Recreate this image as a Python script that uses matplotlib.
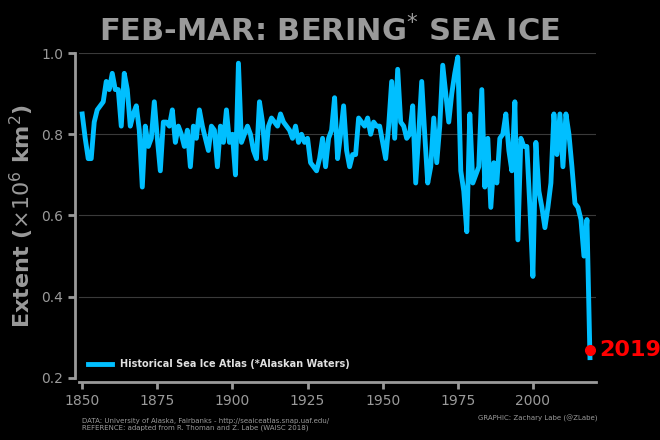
import numpy as np
import matplotlib
matplotlib.use("Agg")
import matplotlib.pyplot as plt

years = list(range(1850, 2020))
ext_1850s = [0.85, 0.79, 0.74, 0.74, 0.83, 0.86, 0.87, 0.88, 0.93, 0.91]
ext_1860s = [0.95, 0.91, 0.91, 0.82, 0.95, 0.91, 0.82, 0.85, 0.87, 0.81]
ext_1870s = [0.67, 0.82, 0.77, 0.79, 0.88, 0.79, 0.71, 0.83, 0.83, 0.82]
ext_1880s = [0.86, 0.78, 0.82, 0.80, 0.77, 0.81, 0.72, 0.82, 0.79, 0.86]
ext_1890s = [0.82, 0.79, 0.76, 0.82, 0.81, 0.72, 0.82, 0.78, 0.86, 0.78]
ext_1900s = [0.80, 0.70, 0.975, 0.78, 0.80, 0.82, 0.80, 0.76, 0.74, 0.88]
ext_1910s = [0.83, 0.74, 0.82, 0.84, 0.83, 0.82, 0.85, 0.83, 0.82, 0.81]
ext_1920s = [0.79, 0.82, 0.78, 0.80, 0.78, 0.79, 0.73, 0.72, 0.71, 0.74]
ext_1930s = [0.79, 0.72, 0.79, 0.81, 0.89, 0.74, 0.80, 0.87, 0.76, 0.72]
ext_1940s = [0.75, 0.75, 0.84, 0.83, 0.82, 0.84, 0.80, 0.83, 0.82, 0.82]
ext_1950s = [0.78, 0.74, 0.82, 0.93, 0.79, 0.96, 0.83, 0.82, 0.79, 0.80]
ext_1960s = [0.87, 0.68, 0.80, 0.93, 0.80, 0.68, 0.72, 0.84, 0.73, 0.82]
ext_1970s = [0.97, 0.90, 0.83, 0.90, 0.95, 0.99, 0.71, 0.66, 0.56, 0.85]
ext_1980s = [0.68, 0.70, 0.72, 0.91, 0.67, 0.79, 0.62, 0.73, 0.68, 0.79]
ext_1990s = [0.80, 0.85, 0.76, 0.71, 0.88, 0.54, 0.79, 0.77, 0.77, 0.62]
ext_2000s = [0.45, 0.78, 0.66, 0.62, 0.57, 0.62, 0.68, 0.85, 0.75, 0.85]
ext_2010s = [0.72, 0.85, 0.80, 0.72, 0.63, 0.62, 0.59, 0.50, 0.59, 0.25]
extent = (ext_1850s + ext_1860s + ext_1870s + ext_1880s + ext_1890s + ext_1900s
          + ext_1910s + ext_1920s + ext_1930s + ext_1940s + ext_1950s + ext_1960s
          + ext_1970s + ext_1980s + ext_1990s + ext_2000s + ext_2010s)
xticks = [1850, 1875, 1900, 1925, 1950, 1975, 2000]
yticks = [0.2, 0.4, 0.6, 0.8, 1.0]

gray = "#9a9a9a"
blue = "#00bfff"
fig = plt.figure(figsize=(6.6, 4.4), dpi=100, facecolor="black")
ax = fig.add_axes([0.12, 0.141, 0.783, 0.7385], facecolor="black")
ax.plot(years, extent, color=blue, lw=3.5, solid_joinstyle="round",
        label="Historical Sea Ice Atlas (*Alaskan Waters)", zorder=3)
ax.plot([years[-1]], [0.27], "o", color="red", ms=7, zorder=4)
ax.text(years[-1] + 3, 0.27, "2019", color="red", fontsize=16, fontweight="bold",
        va="center", ha="left", clip_on=False)
ax.set_xlim(1849, 2021)
ax.set_ylim(0.2, 1.0)
ax.set_xticks(xticks)
ax.set_yticks(yticks)
ax.set_yticklabels([f"{v:.1f}" for v in yticks])
for y in yticks[1:]:
    ax.axhline(y, color="#3a3a3a", lw=0.8, zorder=1)
for s in ["top", "right"]:
    ax.spines[s].set_visible(False)
for s in ["left", "bottom"]:
    ax.spines[s].set_color(gray)
    ax.spines[s].set_linewidth(2)
    ax.spines[s].set_position(("outward", 3))
ax.tick_params(colors=gray, labelsize=10, width=2, length=5)
ax.set_ylabel(r"Extent ($\times 10^6$ km$^2$)", color=gray, fontsize=16, fontweight="bold")
leg = ax.legend(loc="lower left", frameon=False, fontsize=7, handlelength=2.5)
for t in leg.get_texts():
    t.set_color("#e0e0e0")
    t.set_fontweight("bold")
fig.text(0.5, 0.93, r"FEB-MAR: BERING$^{*}$ SEA ICE", color=gray, fontsize=22,
         fontweight="bold", ha="center", va="center")
fig.text(0.125, 0.035, "DATA: University of Alaska, Fairbanks - http://seaiceatlas.snap.uaf.edu/\n"
         "REFERENCE: adapted from R. Thoman and Z. Labe (WAISC 2018)",
         color=gray, fontsize=5, ha="left", va="center")
fig.text(0.905, 0.05, "GRAPHIC: Zachary Labe (@ZLabe)", color=gray, fontsize=5,
         ha="right", va="center")
fig.savefig("out.png", dpi=100, facecolor="black")
